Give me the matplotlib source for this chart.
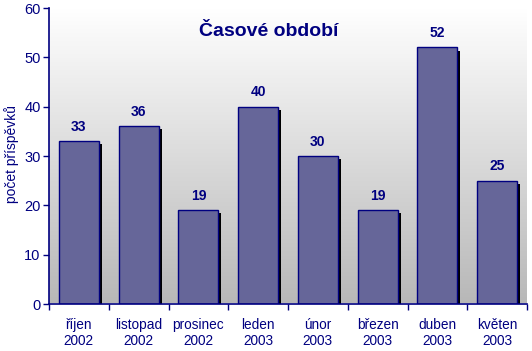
import matplotlib
matplotlib.use("Agg")
import matplotlib.pyplot as plt
import matplotlib.patheffects as pe
import numpy as np

plt.rcParams['font.family'] = ['Liberation Sans', 'DejaVu Sans']

categories = ["říjen\n2002", "listopad\n2002", "prosinec\n2002", "leden\n2003",
              "únor\n2003", "březen\n2003", "duben\n2003", "květen\n2003"]
values = [33, 36, 19, 40, 30, 19, 52, 25]
yticks = [0, 10, 20, 30, 40, 50, 60]
title = "Časové období"
ylabel = "počet příspěvků"

navy = "#000080"
fig = plt.figure(figsize=(5.32, 3.51), dpi=100)
ax = fig.add_axes([49/532, 1-304/351, 478/532, 296/351])

n = len(values)
x = np.arange(n)
ax.set_xlim(-0.5, n-0.5)
ax.set_ylim(0, 60)

grad = np.linspace(1.0, 0.72, 256).reshape(-1, 1)
ax.imshow(np.dstack([grad, grad, grad]), extent=(-0.5, n-0.5, 0.3, 60), aspect='auto',
          zorder=0, origin='upper')

bars = ax.bar(x, values, width=0.67, color="#666699", edgecolor=navy, linewidth=1, zorder=2)
for b in bars:
    b.set_path_effects([pe.SimplePatchShadow(offset=(2.2, -2.2), shadow_rgbFace='black', alpha=1.0),
                        pe.Normal()])

for xi, v in zip(x, values):
    ax.text(xi, v + 1.5, str(v), ha='center', va='bottom', fontsize=10, fontweight='bold', color=navy)

for s in ['top', 'right']:
    ax.spines[s].set_visible(False)
for s in ['left', 'bottom']:
    ax.spines[s].set_color(navy)
    ax.spines[s].set_linewidth(1.2)
    ax.spines[s].set_zorder(5)

ax.set_yticks(yticks)
ax.tick_params(axis='y', colors=navy, labelsize=10.5, length=4, width=1, direction='out', pad=2)
ax.set_xticks(np.arange(-0.5, n, 1.0))
ax.set_xticklabels([])
ax.tick_params(axis='x', colors=navy, length=4, width=1, direction='out')
ax.set_xticks(x, minor=True)
ax.set_xticklabels(categories, minor=True, fontsize=9.8, color=navy, linespacing=1.2)
ax.tick_params(axis='x', which='minor', length=0, pad=10)

fig.text(12/532, 1-154/351, ylabel, rotation=90, ha='center', va='center',
         fontsize=10, color=navy)
fig.text(269/532, 1-32/351, title, ha='center', va='center',
         fontsize=14, fontweight='bold', color=navy)

fig.savefig("out.png", dpi=100, facecolor='white')
